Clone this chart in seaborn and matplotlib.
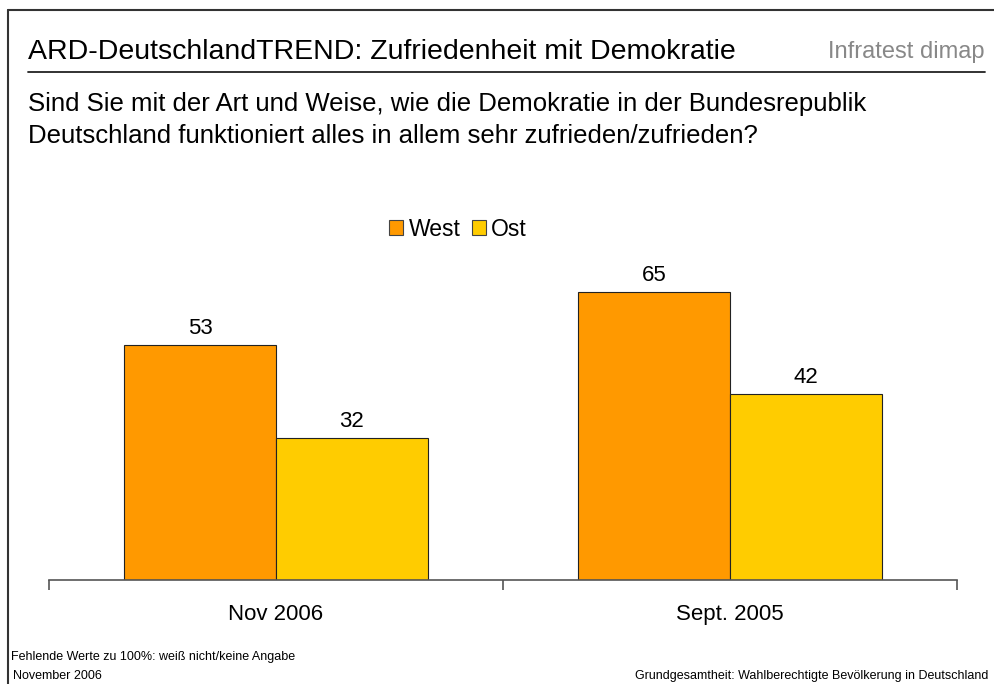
import pandas as pd
import matplotlib.pyplot as plt
import seaborn as sns
from matplotlib.lines import Line2D
from matplotlib.patches import Patch

# Data
categories = ['Nov 2006', 'Sept. 2005']
west = [53, 65]
ost = [32, 42]
series = ['West', 'Ost']
colors = ['#FF9900', '#FFCC00']

df = pd.DataFrame({
    'Zeitpunkt': categories * 2,
    'Gruppe': ['West'] * len(categories) + ['Ost'] * len(categories),
    'Wert': west + ost,
})

sns.set_theme(style='white')
plt.rcParams['font.family'] = ['Liberation Sans', 'DejaVu Sans']
plt.rcParams['text.color'] = 'black'
plt.rcParams['xtick.color'] = 'black'

W, H = 995, 684
fig = plt.figure(figsize=(W / 100, H / 100), dpi=100)
ax = fig.add_axes([49 / W, (H - 580) / H, (957 - 49) / W, (580 - 225) / H])

sns.barplot(data=df, x='Zeitpunkt', y='Wert', hue='Gruppe', order=categories,
            hue_order=series, palette=colors, width=0.668, saturation=1,
            edgecolor='#222222', linewidth=0.8, ax=ax, legend=False)

for cont in ax.containers:
    ax.bar_label(cont, fmt='%d', padding=4, fontsize=16, color='black')

ax.set_ylim(0, 80)
ax.set_xlim(-0.5, 1.5)
ax.set_xlabel('')
ax.set_ylabel('')
ax.set_yticks([])
for s in ['top', 'left', 'right']:
    ax.spines[s].set_visible(False)
ax.spines['bottom'].set_color('#555555')
ax.spines['bottom'].set_linewidth(1.2)
ax.set_xticks([0, 1])
ax.set_xticklabels(categories, fontsize=16)
ax.tick_params(axis='x', which='major', length=0, pad=17, labelcolor='black')
ax.set_xticks([-0.5, 0.5, 1.5], minor=True)
ax.tick_params(axis='x', which='minor', bottom=True, length=7, width=1.2,
               color='#555555', direction='out')

handles = [Patch(facecolor=c, edgecolor='#444444', linewidth=0.8) for c in colors]
fig.legend(handles, series, loc='center', bbox_to_anchor=(458 / W, 1 - 229 / H),
           ncol=2, frameon=False, fontsize=16.5, handlelength=0.6, handleheight=0.6,
           handletextpad=0.25, columnspacing=0.5, borderpad=0)

# Frame lines (top and left)
fig.add_artist(Line2D([8 / W, 1], [1 - 10 / H, 1 - 10 / H], color='#333333', lw=1.5))
fig.add_artist(Line2D([8 / W, 8 / W], [0, 1 - 10 / H], color='#333333', lw=1.5))

# Header
fig.text(28 / W, 1 - 52 / H, 'ARD-DeutschlandTREND: Zufriedenheit mit Demokratie',
         fontsize=20.5, va='center', ha='left')
fig.text(985 / W, 1 - 52 / H, 'Infratest dimap', fontsize=17, color='#888888',
         va='center', ha='right', family=['Liberation Sans Narrow', 'Liberation Sans'])
fig.add_artist(Line2D([28 / W, 985 / W], [1 - 72 / H, 1 - 72 / H], color='#222222', lw=1.3))
fig.text(28 / W, 1 - 104 / H, 'Sind Sie mit der Art und Weise, wie die Demokratie in der Bundesrepublik',
         fontsize=18.5, va='center', ha='left')
fig.text(28 / W, 1 - 136 / H, 'Deutschland funktioniert alles in allem sehr zufrieden/zufrieden?',
         fontsize=18.5, va='center', ha='left')

# Footnotes
fig.text(11 / W, 1 - 657 / H, 'Fehlende Werte zu 100%: weiß nicht/keine Angabe',
         fontsize=9, va='center', ha='left')
fig.text(13 / W, 1 - 676 / H, 'November 2006', fontsize=9, va='center', ha='left')
fig.text(988 / W, 1 - 676 / H, 'Grundgesamtheit: Wahlberechtigte Bevölkerung in Deutschland',
         fontsize=9, va='center', ha='right')

plt.savefig('out.png', dpi=100)
